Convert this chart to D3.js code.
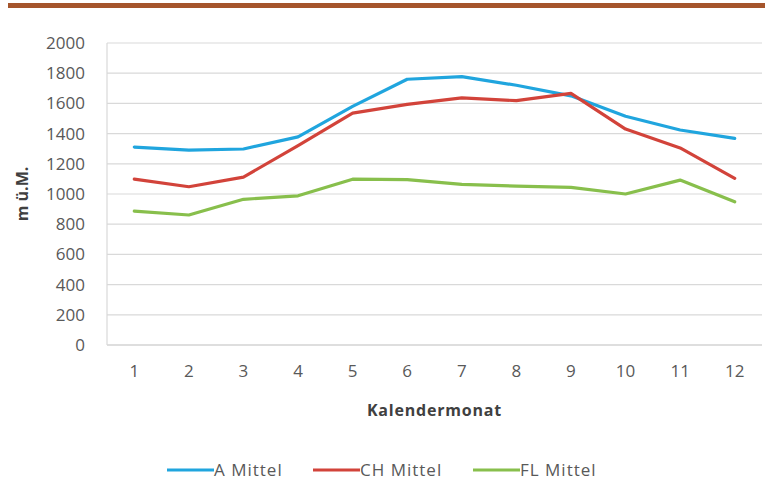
<!DOCTYPE html>
<html>
<head>
<meta charset="utf-8">
<script src="https://cdn.jsdelivr.net/npm/d3@7"></script>
<style>
  body { margin: 0; background: #fff; }
  svg { display: block; font-family: "Open Sans", Lato, sans-serif; }
</style>
</head>
<body>
<div id="chart"></div>
<script>
// data
const months = [1, 2, 3, 4, 5, 6, 7, 8, 9, 10, 11, 12];
const aMittel = [1311, 1290, 1298, 1378, 1580, 1760, 1777, 1720, 1650, 1515, 1424, 1368];
const chMittel = [1099, 1048, 1112, 1320, 1536, 1594, 1636, 1618, 1666, 1430, 1305, 1104];
const flMittel = [887, 861, 965, 988, 1098, 1095, 1064, 1052, 1044, 1000, 1092, 948];
const seriesNames = ["A Mittel", "CH Mittel", "FL Mittel"];
const seriesColors = ["#20a5de", "#d2433a", "#88bf4c"];
const yTicks = [0, 200, 400, 600, 800, 1000, 1200, 1400, 1600, 1800, 2000];

const width = 765, height = 503;
const margin = { top: 43, right: 3, bottom: 158, left: 107 };

const svg = d3.select("#chart").append("svg")
  .attr("width", width)
  .attr("height", height);

// top decorative bar
svg.append("rect")
  .attr("x", 8).attr("y", 3)
  .attr("width", width - 8).attr("height", 5)
  .attr("fill", "#a5552c");

const x = d3.scaleBand()
  .domain(months)
  .range([margin.left, width - margin.right]);

const y = d3.scaleLinear()
  .domain([0, 2000])
  .range([height - margin.bottom, margin.top]);

// gridlines
svg.append("g")
  .selectAll("line")
  .data(yTicks)
  .enter().append("line")
  .attr("x1", margin.left)
  .attr("x2", width - margin.right)
  .attr("y1", d => y(d))
  .attr("y2", d => y(d))
  .attr("stroke", d => d === 0 ? "#bdbdbd" : "#d9d9d9")
  .attr("stroke-width", 1.2);

// left axis line
svg.append("line")
  .attr("x1", margin.left).attr("x2", margin.left)
  .attr("y1", y(2000)).attr("y2", y(0))
  .attr("stroke", "#d9d9d9")
  .attr("stroke-width", 1.2);

// y tick labels
const yAxis = svg.append("g")
  .attr("transform", `translate(${margin.left - 22},0)`)
  .call(d3.axisLeft(y).tickValues(yTicks).tickFormat(d3.format("d")).tickSize(0).tickPadding(0));
yAxis.select(".domain").remove();
yAxis.selectAll("text")
  .attr("font-size", 17)
  .attr("font-family", "'Open Sans', sans-serif")
  .attr("fill", "#595959");

// x tick labels
const xAxis = svg.append("g")
  .attr("transform", `translate(0,${y(0)})`)
  .call(d3.axisBottom(x).tickSize(0).tickPadding(20));
xAxis.select(".domain").remove();
xAxis.selectAll("text")
  .attr("font-size", 17)
  .attr("font-family", "'Open Sans', sans-serif")
  .attr("fill", "#595959");

// axis titles
svg.append("text")
  .attr("x", (margin.left + width - margin.right) / 2)
  .attr("y", 416)
  .attr("text-anchor", "middle")
  .attr("font-size", 16)
  .attr("font-weight", "bold")
  .attr("letter-spacing", 0.8)
  .attr("fill", "#404040")
  .text("Kalendermonat");

svg.append("text")
  .attr("transform", "translate(28,194) rotate(-90)")
  .attr("text-anchor", "middle")
  .attr("font-size", 16)
  .attr("font-weight", "bold")
  .attr("fill", "#404040")
  .text("m ü.M.");

// lines
const line = d3.line()
  .x((d, i) => x(months[i]) + x.bandwidth() / 2)
  .y(d => y(d));

const allSeries = [aMittel, chMittel, flMittel];
svg.append("g")
  .selectAll("path")
  .data(allSeries)
  .enter().append("path")
  .attr("d", line)
  .attr("fill", "none")
  .attr("stroke", (d, i) => seriesColors[i])
  .attr("stroke-width", 3.2)
  .attr("stroke-linejoin", "round")
  .attr("stroke-linecap", "round");

// legend
const legendX = [167, 313, 473];
const legend = svg.append("g")
  .selectAll("g")
  .data(seriesNames)
  .enter().append("g")
  .attr("transform", (d, i) => `translate(${legendX[i]},470)`);

legend.append("line")
  .attr("x1", 0).attr("x2", 47)
  .attr("stroke", (d, i) => seriesColors[i])
  .attr("stroke-width", 3.2);

legend.append("text")
  .attr("x", 47)
  .attr("dy", "0.35em")
  .attr("font-size", 17)
  .attr("letter-spacing", 1)
  .attr("fill", "#595959")
  .text(d => d);
</script>
</body>
</html>
